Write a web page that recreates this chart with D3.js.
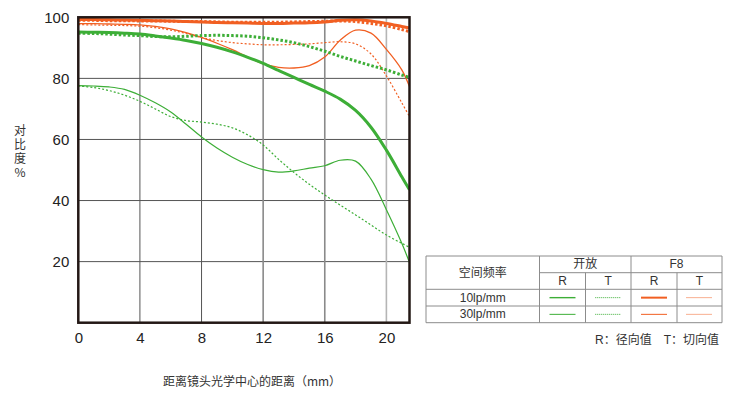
<!DOCTYPE html>
<html>
<head>
<meta charset="utf-8">
<title>MTF</title>
<script src="https://d3js.org/d3.v7.min.js"></script>
<style>
  body { margin: 0; background: #fff; }
  text { font-family: "Liberation Sans", Arial, "Noto Sans CJK SC", sans-serif; }
</style>
</head>
<body>
<div id="chart"></div>
<script>
// 距离镜头光学中心 (mm)
var mm = [0, 1, 2, 3, 4, 5, 6, 7, 8, 9, 10, 11, 12, 13, 14, 15, 16, 17, 18, 19, 20, 21, 21.5];

// 开放 (绿色)
var openR10 = [95.2, 95.1, 95, 94.8, 94.5, 93.9, 93.2, 92.4, 91.4, 90.2, 88.7, 86.9, 84.9, 82.6, 80.3, 78, 75.8, 73.2, 69.5, 64, 56.5, 47.8, 43.5];
var openT10 = [94.8, 94.7, 94.5, 94.2, 94, 93.7, 93.6, 93.8, 94, 94.1, 94, 93.8, 93.3, 92.6, 91.7, 90.4, 88.9, 87.2, 85.7, 84.2, 82.8, 81.1, 80.3];
var openR30 = [77.6, 77.5, 77.2, 76.4, 74.5, 72, 69, 65, 60.8, 57.2, 54.2, 51.8, 50.1, 49.3, 49.7, 50.6, 51.4, 53.2, 52.9, 47, 37, 26, 19.7];
var openT30 = [77.5, 77, 76, 74.5, 72.5, 70, 67.5, 66.2, 65.7, 65, 63.8, 61.5, 58.2, 53.5, 49.2, 45.3, 41.8, 38.5, 35.3, 32, 28.7, 26, 24.7];

// F8 (橙色)
var f8R10 = [99.3, 99.3, 99.2, 99.1, 99, 98.9, 98.8, 98.6, 98.5, 98.3, 98.2, 98.1, 98, 98, 98.1, 98.2, 98.5, 99, 99.2, 98.8, 98, 97, 96.5];
var f8T10 = [99, 99, 98.9, 98.9, 98.8, 98.8, 98.7, 98.6, 98.6, 98.5, 98.4, 98.4, 98.4, 98.4, 98.5, 98.6, 98.7, 98.8, 98.6, 98, 97.2, 96, 95.3];
var f8R30 = [97.9, 97.9, 97.8, 97.7, 97.5, 97, 96.2, 95, 93.4, 91.5, 89.4, 87, 84.8, 83.6, 83.4, 84.2, 87, 92.5, 95.8, 94.8, 89.5, 82.8, 77.3];
var f8T30 = [97.6, 97.5, 97.4, 97.3, 97.1, 96.6, 95.8, 94.7, 93.4, 92.4, 91.7, 91.3, 91, 91, 91.1, 91.3, 91.7, 92, 91.3, 88, 80.8, 72, 67.5];

var xTicks = [0, 4, 8, 12, 16, 20];
var yTicks = [20, 40, 60, 80, 100];

var GREEN = "#3dae37", ORANGE = "#f15f22";

// 线条样式
var series = [
  { v: openT30, c: GREEN, w: 1.2, dash: "2,2" },
  { v: openR30, c: GREEN, w: 1.2, dash: null },
  { v: f8T30, c: ORANGE, w: 1.2, dash: "2,2" },
  { v: f8R30, c: ORANGE, w: 1.3, dash: null },
  { v: openT10, c: GREEN, w: 3, dash: "2.5,2" },
  { v: openR10, c: GREEN, w: 3, dash: null },
  { v: f8T10, c: ORANGE, w: 3, dash: "2.5,2" },
  { v: f8R10, c: ORANGE, w: 3, dash: null }
];

var svg = d3.select("#chart").append("svg")
  .attr("width", 737).attr("height", 395);

var x = d3.scaleLinear().domain([0, 21.5]).range([78.3, 409.5]);
var y = d3.scaleLinear().domain([0, 100]).range([322.7, 17.3]);

// 网格
svg.selectAll(".hgrid").data(yTicks.slice(0, 4)).enter().append("line")
  .attr("x1", x(0)).attr("x2", x(21.5))
  .attr("y1", d => y(d)).attr("y2", d => y(d))
  .attr("stroke", "#555").attr("stroke-width", 1);

var vcol = { 4: "#555", 8: "#555", 12: "#8a8a8a", 16: "#8a8a8a", 20: "#b5b5b5" };
svg.selectAll(".vgrid").data(xTicks.slice(1)).enter().append("line")
  .attr("x1", d => x(d)).attr("x2", d => x(d))
  .attr("y1", y(0)).attr("y2", y(100))
  .attr("stroke", d => vcol[d]).attr("stroke-width", d => d >= 12 ? 1.6 : 1);

// 曲线
svg.append("clipPath").attr("id", "clip").append("rect")
  .attr("x", x(0)).attr("y", y(100)).attr("width", x(21.5) - x(0)).attr("height", y(0) - y(100));

var line = d3.line()
  .x((d, i) => x(mm[i]))
  .y(d => y(d))
  .curve(d3.curveCatmullRom.alpha(0.5));

svg.append("g").attr("clip-path", "url(#clip)")
  .selectAll("path").data(series).enter().append("path")
  .attr("d", d => line(d.v))
  .attr("fill", "none")
  .attr("stroke", d => d.c)
  .attr("stroke-width", d => d.w)
  .attr("stroke-dasharray", d => d.dash);

// 边框
svg.append("rect")
  .attr("x", x(0)).attr("y", y(100))
  .attr("width", x(21.5) - x(0)).attr("height", y(0) - y(100))
  .attr("fill", "none").attr("stroke", "#231815").attr("stroke-width", 2.5);

// 坐标轴
var xAxis = svg.append("g").attr("transform", "translate(0," + y(0) + ")")
  .call(d3.axisBottom(x).tickValues(xTicks).tickSize(0).tickPadding(10));
xAxis.select(".domain").remove();
xAxis.selectAll("text").attr("font-size", 15).attr("fill", "#222")
  .style("font-family", "Liberation Sans, Arial, sans-serif");

var yAxis = svg.append("g").attr("transform", "translate(" + x(0) + ",0)")
  .call(d3.axisLeft(y).tickValues(yTicks).tickSize(0).tickPadding(9));
yAxis.select(".domain").remove();
yAxis.selectAll("text").attr("font-size", 15).attr("fill", "#222")
  .style("font-family", "Liberation Sans, Arial, sans-serif");

// 轴标题（竖排）
svg.append("text")
  .attr("x", 20).attr("y", 124)
  .attr("font-size", 12).attr("fill", "#333")
  .style("font-family", "Noto Sans CJK SC, sans-serif")
  .style("writing-mode", "vertical-rl")
  .style("text-orientation", "upright")
  .style("letter-spacing", "2px")
  .text("对比度%");

svg.append("text")
  .attr("x", 252).attr("y", 386)
  .attr("text-anchor", "middle").attr("font-size", 12).attr("fill", "#333")
  .style("font-family", "Noto Sans CJK SC, sans-serif")
  .text("距离镜头光学中心的距离（mm）");

// 图例表格
var colX = [426, 539.5, 585.5, 631, 677, 722];
var rowY = [256, 272.7, 289.3, 306, 322.7];
var lg = svg.append("g");
var gridC = "#8c8c8c";
function hl(x1, x2, yy) {
  lg.append("line").attr("x1", x1).attr("x2", x2).attr("y1", yy).attr("y2", yy)
    .attr("stroke", gridC).attr("stroke-width", 1);
}
function vl(xx, y1, y2) {
  lg.append("line").attr("x1", xx).attr("x2", xx).attr("y1", y1).attr("y2", y2)
    .attr("stroke", gridC).attr("stroke-width", 1);
}
hl(colX[0], colX[5], rowY[0]);
hl(colX[1], colX[5], rowY[1]);
hl(colX[0], colX[5], rowY[2]);
hl(colX[0], colX[5], rowY[3]);
hl(colX[0], colX[5], rowY[4]);
vl(colX[0], rowY[0], rowY[4]);
vl(colX[1], rowY[0], rowY[4]);
vl(colX[3], rowY[0], rowY[4]);
vl(colX[5], rowY[0], rowY[4]);
vl(colX[2], rowY[1], rowY[4]);
vl(colX[4], rowY[1], rowY[4]);

function lt(tx, ty, s) {
  lg.append("text").attr("x", tx).attr("y", ty)
    .attr("text-anchor", "middle").attr("dominant-baseline", "central")
    .attr("font-size", 12).attr("fill", "#333").text(s);
}
lt((colX[0] + colX[1]) / 2, rowY[1], "空间频率");
lt((colX[1] + colX[3]) / 2, (rowY[0] + rowY[1]) / 2, "开放");
lt((colX[3] + colX[5]) / 2, (rowY[0] + rowY[1]) / 2, "F8");
["R", "T", "R", "T"].forEach(function (s, i) {
  lt((colX[i + 1] + colX[i + 2]) / 2, (rowY[1] + rowY[2]) / 2, s);
});
lt((colX[0] + colX[1]) / 2, (rowY[2] + rowY[3]) / 2, "10lp/mm");
lt((colX[0] + colX[1]) / 2, (rowY[3] + rowY[4]) / 2, "30lp/mm");

var legendRows = [[openR10, openT10, f8R10, f8T10], [openR30, openT30, f8R30, f8T30]];
legendRows.forEach(function (row, r) {
  row.forEach(function (v, i) {
    var s = series.find(d => d.v === v);
    var cx = (colX[i + 1] + colX[i + 2]) / 2;
    var cy = (rowY[r + 2] + rowY[r + 3]) / 2;
    lg.append("line").attr("x1", cx - 13).attr("x2", cx + 13).attr("y1", cy).attr("y2", cy)
      .attr("stroke", s.c)
      .attr("stroke-width", s.dash ? 1 : (r === 0 ? (i >= 2 ? 2 : 1.4) : 1))
      .attr("stroke-dasharray", s.dash ? "1,1" : null);
  });
});

svg.append("text").attr("x", 719).attr("y", 344)
  .attr("text-anchor", "end").attr("font-size", 12).attr("fill", "#333")
  .text("R：径向值　T：切向值");
</script>
</body>
</html>
